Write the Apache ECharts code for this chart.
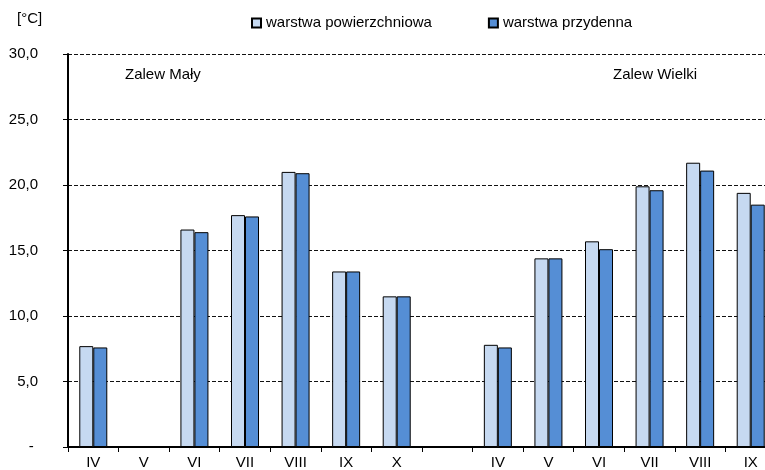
<!DOCTYPE html>
<html>
<head>
<meta charset="utf-8">
<script src="https://cdn.jsdelivr.net/npm/echarts@6/dist/echarts.min.js"></script>
<style>
html,body{margin:0;padding:0;background:#fff;}
#chart{width:765px;height:470px;}
</style>
</head>
<body>
<div id="chart"></div>
<script>
const categories = ['IV','V','VI','VII','VIII','IX','X','','IV','V','VI','VII','VIII','IX'];
const surfaceName = 'warstwa powierzchniowa';
const bottomName = 'warstwa przydenna';
const surfaceValues = [7.7, null, 16.6, 17.7, 21.0, 13.4, 11.5, null, 7.8, 14.4, 15.7, 19.9, 21.7, 19.4];
const bottomValues  = [7.6, null, 16.4, 17.6, 20.9, 13.4, 11.5, null, 7.6, 14.4, 15.1, 19.6, 21.1, 18.5];
const yTicks = { min: 0, max: 30, interval: 5 };
const unitLabel = '[°C]';
const regionLabels = ['Zalew Mały', 'Zalew Wielki'];

const FONT = "'Liberation Sans', Arial, sans-serif";
const chart = echarts.init(document.getElementById('chart'), null, {renderer:'canvas'});
chart.setOption({
  animation: false,
  backgroundColor: '#fff',
  textStyle: { fontFamily: FONT, color: '#000' },
  grid: { left: 68, top: 54, width: 708, height: 393, containLabel: false, outerBoundsMode: 'none' },
  legend: {
    left: 251, top: 15, padding: 0,
    itemWidth: 9, itemHeight: 9, itemGap: 56,
    icon: 'rect',
    textStyle: { fontFamily: FONT, fontSize: 15, color: '#000', lineHeight: 16 },
    data: [surfaceName, bottomName]
  },
  xAxis: {
    type: 'category',
    data: categories,
    axisLine: { lineStyle: { color: '#000', width: 2 } },
    axisTick: { show: true, length: 5, interval: 0, lineStyle: { color: '#000', width: 1 } },
    axisLabel: { interval: 0, margin: 8, fontSize: 15, color: '#000', fontFamily: FONT }
  },
  yAxis: {
    type: 'value',
    min: yTicks.min, max: yTicks.max, interval: yTicks.interval,
    axisLine: { show: true, lineStyle: { color: '#000', width: 2 } },
    axisTick: { show: true, length: 5, lineStyle: { color: '#000', width: 1 } },
    axisLabel: {
      margin: 30, fontSize: 15, color: '#000', fontFamily: FONT,
      formatter: v => v === 0 ? '- ' : v.toFixed(1).replace('.', ',')
    },
    splitLine: { show: true, lineStyle: { color: '#111', width: 1, type: [4, 2] } }
  },
  graphic: [
    { type: 'text', left: 17, top: 11, style: { text: unitLabel, font: "15px " + FONT, fill: '#000' } },
    { type: 'text', left: 125, top: 67, style: { text: regionLabels[0], font: "15px " + FONT, fill: '#000' } },
    { type: 'text', left: 613, top: 67, style: { text: regionLabels[1], font: "15px " + FONT, fill: '#000' } }
  ],
  series: [
    {
      name: surfaceName, type: 'bar', data: surfaceValues,
      barWidth: 14, barGap: '0%',
      itemStyle: { color: '#C6D9F1', borderColor: '#000', borderWidth: 1 }
    },
    {
      name: bottomName, type: 'bar', data: bottomValues,
      barWidth: 14, barGap: '0%',
      itemStyle: { color: '#558ED5', borderColor: '#000', borderWidth: 1 }
    }
  ]
});
</script>
</body>
</html>
